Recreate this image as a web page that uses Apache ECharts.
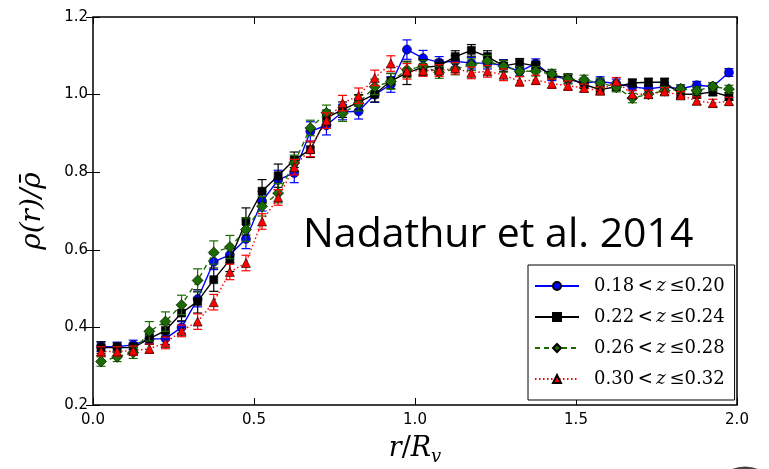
<!DOCTYPE html>
<html>
<head>
<meta charset="utf-8">
<script src="https://cdn.jsdelivr.net/npm/echarts@6/dist/echarts.min.js"></script>
<style>html,body{margin:0;padding:0;background:#fff;}#c{width:769px;height:469px;}</style>
</head>
<body>
<div id="c"></div>
<script>
const r = [0.025,0.075,0.125,0.175,0.225,0.275,0.325,0.375,0.425,0.475,
           0.525,0.575,0.625,0.675,0.725,0.775,0.825,0.875,0.925,0.975,
           1.025,1.075,1.125,1.175,1.225,1.275,1.325,1.375,1.425,1.475,
           1.525,1.575,1.625,1.675,1.725,1.775,1.825,1.875,1.925,1.975];

const blueVals = [0.350,0.350,0.355,0.370,0.371,0.400,0.473,0.569,0.587,0.628,
                  0.725,0.780,0.798,0.905,0.921,0.955,0.957,1.000,1.026,1.116,
                  1.094,1.083,1.086,1.081,1.081,1.075,1.060,1.080,1.048,1.040,
                  1.030,1.034,1.028,1.020,1.015,1.020,1.015,1.024,1.021,1.057];
const blueErr  = [0.012,0.012,0.012,0.012,0.015,0.015,0.020,0.020,0.020,0.025,
                  0.025,0.025,0.025,0.025,0.025,0.020,0.020,0.020,0.020,0.025,
                  0.020,0.015,0.015,0.015,0.015,0.015,0.012,0.012,0.012,0.012,
                  0.012,0.012,0.012,0.010,0.010,0.010,0.010,0.010,0.010,0.010];

const blackVals = [0.348,0.348,0.348,0.371,0.392,0.437,0.467,0.523,0.574,0.673,
                   0.751,0.791,0.832,0.858,0.940,0.961,0.980,1.001,1.035,1.056,
                   1.070,1.074,1.098,1.114,1.098,1.074,1.081,1.074,1.050,1.043,
                   1.026,1.013,1.020,1.030,1.032,1.032,1.001,1.001,1.007,0.995];
const blackErr  = [0.015,0.012,0.012,0.015,0.015,0.020,0.030,0.030,0.030,0.035,
                   0.030,0.030,0.020,0.020,0.020,0.020,0.020,0.020,0.020,0.030,
                   0.020,0.015,0.015,0.015,0.015,0.015,0.012,0.012,0.010,0.010,
                   0.010,0.012,0.010,0.010,0.010,0.010,0.010,0.010,0.010,0.010];

const greenVals = [0.312,0.324,0.335,0.390,0.415,0.458,0.521,0.593,0.607,0.652,
                   0.712,0.746,0.824,0.914,0.953,0.951,0.978,1.020,1.034,1.064,
                   1.073,1.057,1.066,1.077,1.086,1.073,1.060,1.060,1.053,1.040,
                   1.038,1.030,1.019,0.991,1.001,1.010,1.015,1.010,1.021,1.014];
const greenErr  = [0.012,0.012,0.015,0.025,0.025,0.025,0.030,0.030,0.030,0.030,
                   0.025,0.025,0.020,0.020,0.020,0.020,0.020,0.020,0.020,0.020,
                   0.015,0.015,0.015,0.015,0.015,0.015,0.012,0.012,0.012,0.012,
                   0.012,0.012,0.012,0.012,0.010,0.010,0.010,0.010,0.010,0.010];

const redVals = [0.338,0.338,0.340,0.345,0.360,0.391,0.415,0.465,0.543,0.566,
                 0.673,0.735,0.813,0.860,0.933,0.978,0.997,1.043,1.080,1.060,
                 1.062,1.062,1.068,1.056,1.060,1.051,1.034,1.038,1.028,1.023,
                 1.017,1.010,1.034,1.001,1.001,1.008,0.998,0.984,0.978,0.983];
const redErr  = [0.012,0.012,0.012,0.012,0.015,0.015,0.020,0.020,0.020,0.020,
                 0.020,0.020,0.020,0.020,0.020,0.020,0.020,0.020,0.020,0.020,
                 0.015,0.015,0.015,0.015,0.015,0.015,0.012,0.012,0.012,0.012,
                 0.010,0.010,0.010,0.010,0.010,0.010,0.010,0.010,0.010,0.010];

const xTicks = [0.0, 0.5, 1.0, 1.5, 2.0];
const yTicks = [0.2, 0.4, 0.6, 0.8, 1.0, 1.2];

const seriesDefs = [
  {name:'0.18 < z ≤ 0.20', lo:'0.18', hi:'0.20', vals:blueVals, err:blueErr, color:'#0000ff', symbol:'circle', size:9, line:'solid'},
  {name:'0.22 < z ≤ 0.24', lo:'0.22', hi:'0.24', vals:blackVals, err:blackErr, color:'#000000', symbol:'rect', size:8, line:'solid'},
  {name:'0.26 < z ≤ 0.28', lo:'0.26', hi:'0.28', vals:greenVals, err:greenErr, color:'#1c6b00', symbol:'diamond', size:11, line:[5,4]},
  {name:'0.30 < z ≤ 0.32', lo:'0.30', hi:'0.32', vals:redVals, err:redErr, color:'#ff0000', symbol:'triangle', size:9, line:[1.5,2.5]}
];

const series = [];
seriesDefs.forEach((d, k) => {
  series.push({
    type:'custom', name:d.name + ' err', xAxisIndex:0, yAxisIndex:0, z:2 + k*2,
    silent:true,
    data: r.map((x,i)=>[x, d.vals[i], d.err[i]]),
    renderItem: function(params, api){
      const x = api.value(0), y = api.value(1), e = api.value(2);
      const top = api.coord([x, y + e]);
      const bot = api.coord([x, y - e]);
      const c = 4.5;
      const st = {stroke:d.color, lineWidth:1.2};
      return {type:'group', children:[
        {type:'line', shape:{x1:top[0], y1:top[1], x2:bot[0], y2:bot[1]}, style:st},
        {type:'line', shape:{x1:top[0]-c, y1:top[1], x2:top[0]+c, y2:top[1]}, style:st},
        {type:'line', shape:{x1:bot[0]-c, y1:bot[1], x2:bot[0]+c, y2:bot[1]}, style:st}
      ]};
    }
  });
  series.push({
    type:'line', name:d.name, xAxisIndex:0, yAxisIndex:0, z:3 + k*2,
    data: r.map((x,i)=>[x, d.vals[i]]),
    symbol:d.symbol, symbolSize:d.size, showSymbol:true,
    lineStyle:{color:d.color, width:1.4, type:d.line},
    itemStyle:{color:d.color, borderColor:'#000', borderWidth:0.6},
    animation:false
  });
});

const legendMap = {};
seriesDefs.forEach(d => { legendMap[d.name] = d; });

const chart = echarts.init(document.getElementById('c'), null, {renderer:'canvas'});
const tickFont = {fontFamily:'DejaVu Sans', fontSize:15, color:'#000'};
chart.setOption({
  animation:false,
  backgroundColor:'#fff',
  grid:{left:93, top:17, right:32, bottom:64, show:true, borderColor:'#000', borderWidth:1.5,
        backgroundColor:'transparent', containLabel:false, outerBoundsMode:'none'},
  xAxis:[
    {type:'value', min:0, max:2, interval:0.5, position:'bottom',
     axisLine:{show:false}, splitLine:{show:false},
     axisTick:{inside:true, length:7, lineStyle:{color:'#000'}},
     axisLabel:Object.assign({margin:8, formatter:v=>v.toFixed(1)}, tickFont),
     name:'{i|r}{n|/}{i|R}{s|v}', nameLocation:'middle', nameGap:27,
     nameTextStyle:{rich:{
       i:{fontFamily:'DejaVu Serif', fontStyle:'italic', fontSize:27, color:'#000'},
       n:{fontFamily:'DejaVu Serif', fontSize:27, color:'#000'},
       s:{fontFamily:'DejaVu Serif', fontStyle:'italic', fontSize:18, color:'#000', padding:[16,0,0,0]}
     }}},
    {type:'value', min:0, max:2, interval:0.5, position:'top',
     axisLine:{show:false}, splitLine:{show:false}, axisLabel:{show:false},
     axisTick:{inside:true, length:7, lineStyle:{color:'#000'}}}
  ],
  yAxis:[
    {type:'value', min:0.2, max:1.2, interval:0.2, position:'left',
     axisLine:{show:false}, splitLine:{show:false},
     axisTick:{inside:true, length:7, lineStyle:{color:'#000'}},
     axisLabel:Object.assign({margin:5, formatter:v=>v.toFixed(1)}, tickFont),
     name:'ρ(r)/ρ̄', nameLocation:'middle', nameGap:46, nameRotate:90,
     nameTextStyle:{fontFamily:'DejaVu Serif', fontStyle:'italic', fontSize:28, color:'#000'}},
    {type:'value', min:0.2, max:1.2, interval:0.2, position:'right',
     axisLine:{show:false}, splitLine:{show:false}, axisLabel:{show:false},
     axisTick:{inside:true, length:7, lineStyle:{color:'#000'}}}
  ],
  legend:{
    orient:'vertical', left:528, top:265,
    data: seriesDefs.map(d=>d.name),
    backgroundColor:'#fff', borderColor:'#000', borderWidth:1,
    padding:[12,10,12,6], itemGap:13, itemWidth:44, itemHeight:10,
    formatter: function(name){
      const d = legendMap[name];
      return '{n|' + d.lo + '\u2009<\u2009}{z|z}{n|\u2009≤' + d.hi + '}';
    },
    textStyle:{padding:[0,0,0,10], rich:{
      n:{fontFamily:'DejaVu Serif', fontSize:18, color:'#000'},
      z:{fontFamily:'DejaVu Serif', fontStyle:'italic', fontSize:18, color:'#000'}
    }},
    selectedMode:false
  },
  graphic:[
    {type:'text', left:303, top:215, z:100,
     style:{text:'Nadathur et al. 2014', font:'41px "Open Sans"', fill:'#000'}},
    {type:'circle', shape:{cx:745, cy:500, r:32}, z:100,
     style:{fill:'#f4f4f4', stroke:'#444', lineWidth:3}}
  ],
  series: series
});
</script>
</body>
</html>
